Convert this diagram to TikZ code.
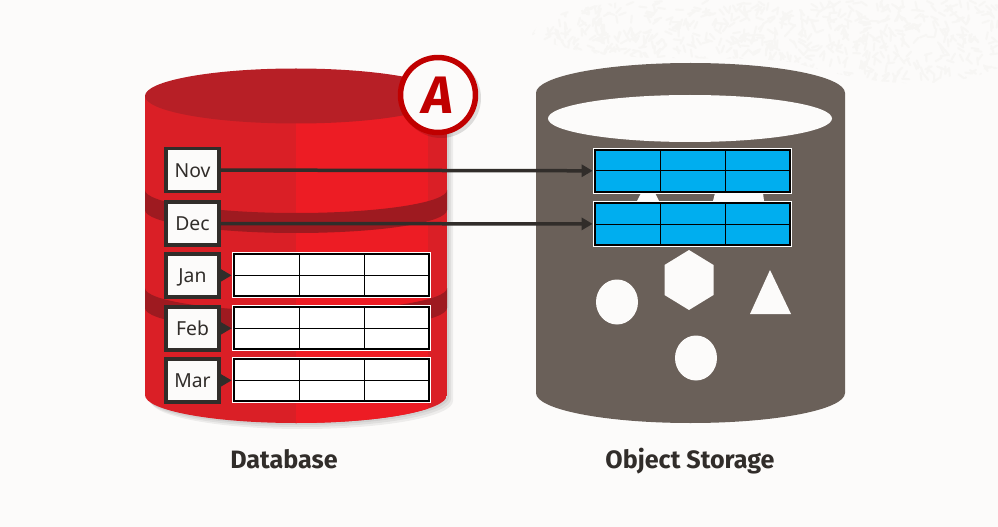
\documentclass[tikz,border=0pt]{standalone}
\usepackage{fontspec}
\setmainfont{Noto Sans}
\newfontfamily\headfont{Fira Sans}
\usetikzlibrary{arrows.meta,positioning,calc,shapes.geometric}
\definecolor{pagebg}{RGB}{252,251,250}
\definecolor{grain}{RGB}{247,246,244}
\definecolor{redleft}{RGB}{218,31,38}
\definecolor{redright}{RGB}{237,28,36}
\definecolor{redtop}{RGB}{183,31,38}
\definecolor{redband}{RGB}{158,26,32}
\definecolor{badgered}{RGB}{192,0,0}
\definecolor{storagegray}{RGB}{106,96,89}
\definecolor{inkdark}{RGB}{49,45,42}
\definecolor{cellblue}{RGB}{0,174,239}

\begin{document}
\begin{tikzpicture}[
    x=0.02cm, y=0.02cm, yscale=-1,
    monthbox/.style={rectangle, draw=inkdark, line width=0.07cm, fill=pagebg, minimum width=1.07cm, minimum height=0.87cm, inner sep=0pt, text height=8pt, text depth=0pt, font=\fontsize{11}{13}\selectfont, text=inkdark},
    tablebox/.style={rectangle, fill=white, minimum width=3.98cm, minimum height=0.92cm, inner sep=0pt},
    arr/.style={-{Triangle[length=2.2mm,width=2.4mm]}, line width=0.07cm, inkdark},
    caption/.style={anchor=base, font=\headfont\fontsize{14.3}{16}\selectfont\bfseries, text=inkdark},
    blob/.style={fill=pagebg}
]
    \useasboundingbox (0,0) rectangle (998,527);
    \fill[pagebg] (0,0) rectangle (998,527);

    % Grain in the corner
    \begin{scope}
        \clip (532,35) .. controls (540,12) and (590,5) .. (640,0) -- (998,0) -- (998,68)
            .. controls (950,90) and (880,88) .. (800,64) .. controls (740,50) and (600,72) .. (532,35);
        \pgfmathsetseed{7}
        \foreach \i in {1,...,900} {
            \pgfmathsetmacro{\gx}{530+rnd*468}
            \pgfmathsetmacro{\gy}{rnd*92}
            \pgfmathsetmacro{\ga}{rnd*180}
            \draw[grain, line width=0.04cm, line cap=round] (\gx,\gy) -- ++(\ga:7);
        }
    \end{scope}

    % Database cylinder
    \foreach \off in {2,4,6} {
        \fill[black, opacity=0.06] (145+\off,96+\off) -- (145+\off,395+\off)
            arc[start angle=180, end angle=0, x radius=151, y radius=28] -- (447+\off,96+\off) -- cycle;
    }
    \begin{scope}
        \clip (145,96) -- (145,395) arc[start angle=180, end angle=0, x radius=151, y radius=28] -- (447,96) -- cycle;
        \fill[redleft] (145,60) rectangle (447,430);
        \fill[redright] (296,60) rectangle (428,430);
        \foreach \y in {190,288} {
            \fill[redband] (145,\y) arc[start angle=180, end angle=0, x radius=151, y radius=23]
                -- (447,\y+20) arc[start angle=0, end angle=180, x radius=151, y radius=23] -- cycle;
        }
    \end{scope}
    \fill[redtop] (296,96) ellipse[x radius=151, y radius=27.5];

    % Storage cylinder
    \fill[storagegray] (536,93) arc[start angle=180, end angle=360, x radius=154.5, y radius=30]
        -- (845,393) arc[start angle=0, end angle=180, x radius=154.5, y radius=30] -- cycle;
    \fill[pagebg] (690,118.5) ellipse[x radius=142, y radius=23.5];
    \fill[blob] (637,201) -- (641,193) -- (655,193) -- (659,201) -- cycle;
    \fill[blob] (713,201) -- (715,193) -- (763,193) -- (764,201) -- cycle;
    \fill[blob] (617,302) ellipse[x radius=21, y radius=22.5];
    \fill[blob] (689,250) -- (713.5,265) -- (713.5,295) -- (689,310) -- (664.5,295) -- (664.5,265) -- cycle;
    \fill[blob] (770,270) -- (791,314) -- (750,314) -- cycle;
    \fill[blob] (696,358) ellipse[x radius=21, y radius=22.5];

    % Tables
    \foreach \name/\tx/\ty/\c in {novtab/692.5/171/cellblue, dectab/692.5/224/cellblue,
        jantab/331.5/275/white, febtab/331.5/328/white, martab/331.5/380/white} {
        \node[tablebox] (\name) at (\tx,\ty) {};
        \fill[\c] (\tx-97.5,\ty-21) rectangle (\tx+97.5,\ty+21);
        \draw[black, line width=0.03cm] (\tx-97.5,\ty-21) rectangle (\tx+97.5,\ty+21);
        \draw[black, line width=0.02cm] (\tx-97.5,\ty) -- (\tx+97.5,\ty);
        \draw[black, line width=0.02cm] (\tx-32.5,\ty-21) -- (\tx-32.5,\ty+21);
        \draw[black, line width=0.02cm] (\tx+32.5,\ty-21) -- (\tx+32.5,\ty+21);
    }

    % Months
    \foreach \name/\lab/\y in {nov/Nov/170, dec/Dec/223.5, jan/Jan/275.5, feb/Feb/328.5, mar/Mar/380.5} {
        \node[monthbox] (\name) at (192.5,\y) {\lab};
    }
    \draw[arr] (nov) -- (novtab);
    \draw[arr] (dec) -- (dectab);
    \draw[arr] (jan) -- (jantab);
    \draw[arr] (feb) -- (febtab);
    \draw[arr] (mar) -- (martab);

    % Badge
    \fill[black, opacity=0.12] (441,98) circle[radius=40];
    \node[circle, draw=badgered, line width=0.11cm, fill=pagebg, minimum size=1.5cm, inner sep=0pt,
        font=\headfont\fontsize{30}{32}\selectfont\bfseries\itshape, text=badgered] (badge) at (438,95) {A};

    % Captions
    \node[caption] (dbcap) at (284,468) {Database};
    \node[caption] (oscap) at (690,468) {Object Storage};
\end{tikzpicture}
\end{document}
